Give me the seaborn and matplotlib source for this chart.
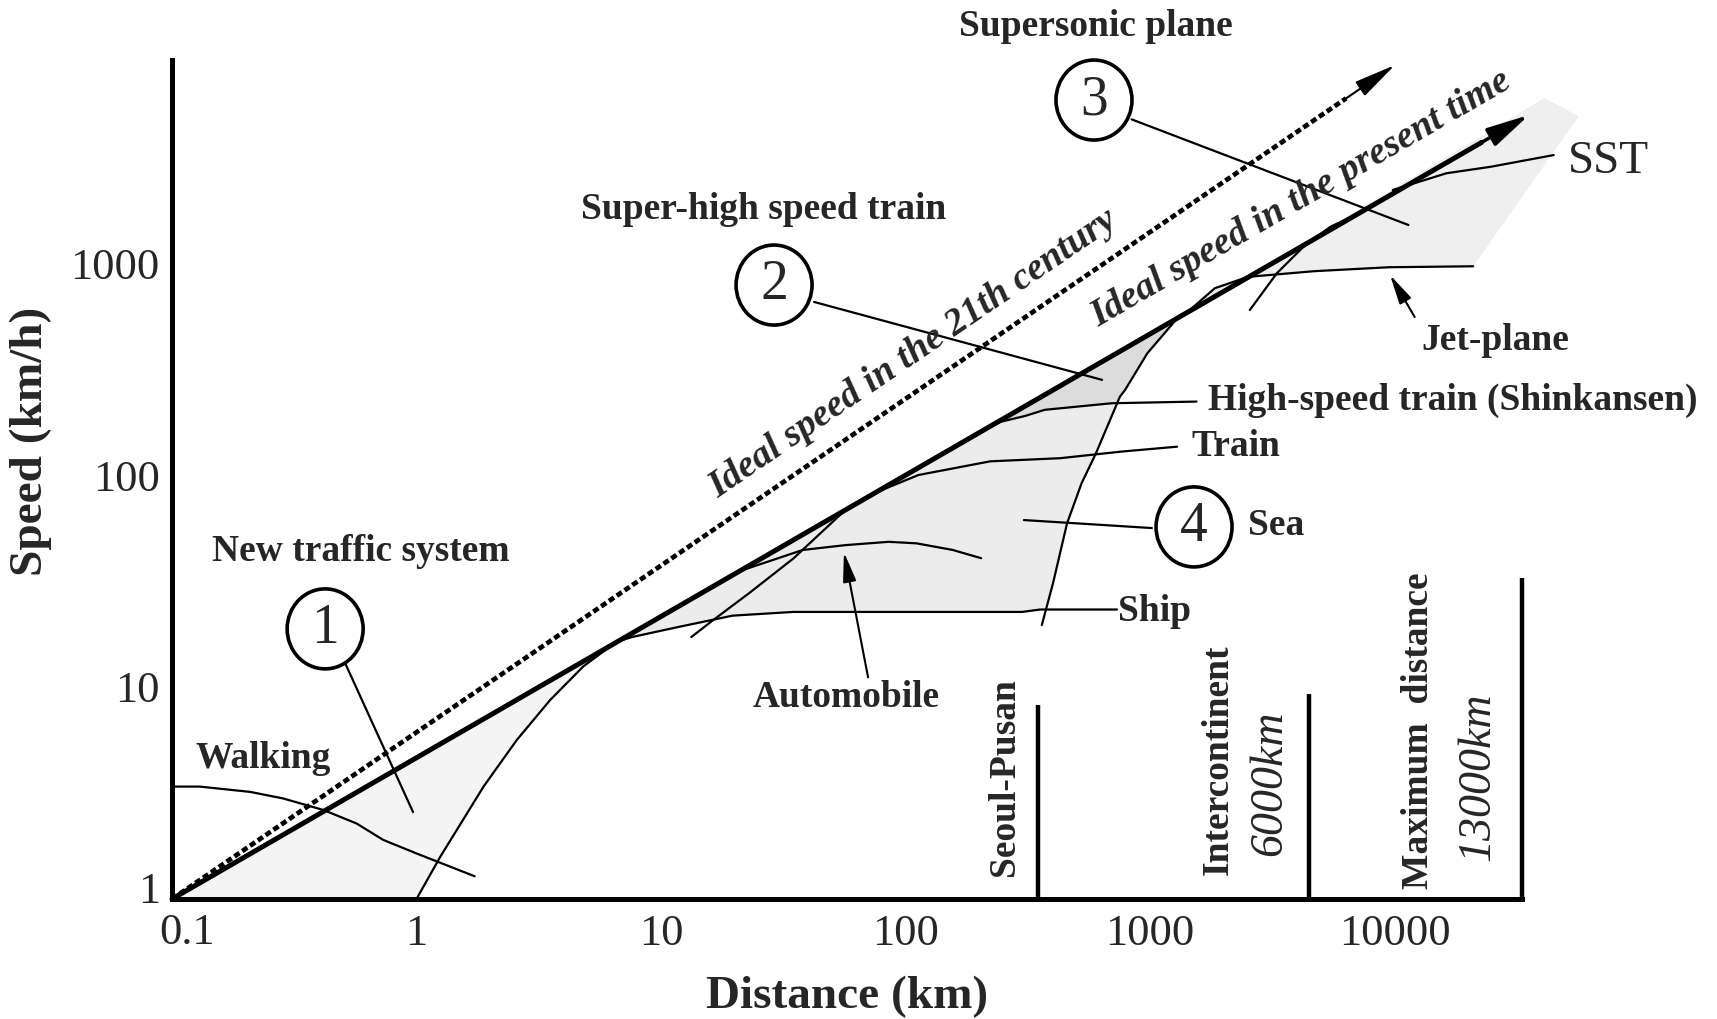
import numpy as np
import pandas as pd
import matplotlib
matplotlib.use("Agg")
import matplotlib.pyplot as plt
import seaborn as sns
from matplotlib.patches import Ellipse
from matplotlib.transforms import ScaledTranslation

# ---- curves (distance km, speed km/h) ----
walk_d = [0.103, 0.13, 0.209, 0.285, 0.416, 0.569, 0.731, 1.0, 1.73]
walk_v = [3.39, 3.39, 3.2, 2.98, 2.63, 2.27, 1.9, 1.64, 1.28]

newtraffic_d = [1.0, 1.25, 1.88, 2.57, 3.52, 4.81, 6.18, 6.6]
newtraffic_v = [1.0, 1.58, 3.39, 5.62, 8.68, 12.5, 15.5, 16.4]

ship_d = [6.45, 7.6, 11.8, 19.6, 34.7, 300, 355, 733]
ship_v = [16.2, 17.2, 19.2, 21.7, 22.6, 22.6, 23.2, 23.2]

sea_left_d = [13.3, 16, 23.2, 34.8, 55.7, 58]
sea_left_v = [17.2, 20.3, 28, 40.4, 67, 69]

auto_d = [22.2, 38, 56.9, 85.3, 111, 156, 204]
auto_v = [36, 44.3, 46.7, 48.4, 47.6, 44.3, 40.5]

train_d = [70.5, 113, 222, 428, 767, 1290]
train_v = [80, 100, 116, 120, 129, 136]

hst_d = [215, 244, 309, 371, 697, 1549]
hst_v = [166, 178, 190, 203, 218, 222]

sea_right_d = [361, 401, 458, 525, 600, 753, 791, 975, 1288]
sea_right_v = [19.6, 30.8, 59.2, 91.4, 126, 234, 252, 375, 546]

jet_d = [1400, 1840, 2510, 4700, 9500, 21000]
jet_v = [577, 760, 860, 915, 955, 965]

sst_d = [9840, 16300, 24800, 44800]
sst_v = [2210, 2650, 2845, 3230]

ss_lower_d = [2560, 3300, 4250, 5470, 6750]
ss_lower_v = [600, 894, 1195, 1483, 1660]

# ideal speed lines (start, arrow tip)
ideal_now_d = [0.1, 35500]
ideal_now_v = [1.0, 4990]
ideal_21_d = [0.1, 10050]
ideal_21_v = [1.0, 8590]

# shaded zones
zone1_d = [0.1, 6.6, 6.18, 4.81, 3.52, 2.57, 1.88, 1.25, 1.0]
zone1_v = [1.0, 16.4, 15.5, 12.5, 8.68, 5.62, 3.39, 1.58, 1.0]
zone4_d = [6.45, 7.6, 11.8, 19.6, 34.7, 300, 355, 375, 401, 458, 525, 600, 735, 697, 371, 309, 244, 215]
zone4_v = [16.2, 17.2, 19.2, 21.7, 22.6, 22.6, 23.2, 23.2, 30.8, 59.2, 91.4, 126, 219, 218, 203, 190, 178, 166]
zone2_d = [215, 244, 309, 371, 697, 735, 753, 791, 975, 1288]
zone2_v = [166, 178, 190, 203, 218, 219, 234, 252, 375, 546]
zone3_d = [1400, 41000, 56700, 21000, 9500, 4700, 2510, 1840]
zone3_v = [577, 6000, 4920, 965, 955, 915, 860, 760]

# reference distances
dist_d = [348, 4450, 33100]
dist_top = [8.2, 9.3, 32.5]

xtick_vals = [0.1, 1, 10, 100, 1000, 10000]
xtick_labels = ["0.1", "1", "10", "100", "1000", "10000"]
ytick_vals = [1, 10, 100, 1000]
ytick_labels = ["1", "10", "100", "1000"]

sns.set_theme(style="white")
plt.rcParams["font.family"] = ["Liberation Serif", "DejaVu Serif"]

W, H = 1717, 1019
fig = plt.figure(figsize=(W / 100, H / 100), dpi=100)
ax = fig.add_axes([0, 0, 1, 1])
ax.set_xscale("log")
ax.set_yscale("log")
ax.set_xlim(10 ** -1.70348, 10 ** 5.31901)
ax.set_ylim(10 ** -0.56604, 10 ** 4.24057)
ax.set_facecolor("white")
fig.patch.set_facecolor("white")

# shaded zones
for zd, zv, col in [(zone1_d, zone1_v, "#f4f4f4"), (zone4_d, zone4_v, "#ececec"),
                    (zone2_d, zone2_v, "#dcdcdc"), (zone3_d, zone3_v, "#efefef")]:
    ax.fill(zd, zv, color=col, lw=0, zorder=1)

def curve(d, v, lw=1.6, **kw):
    df = pd.DataFrame({"d": d, "v": v})
    sns.lineplot(data=df, x="d", y="v", sort=False, estimator=None, color="black",
                 lw=lw, ax=ax, zorder=3, **kw)

for d, v in [(walk_d, walk_v), (newtraffic_d, newtraffic_v), (ship_d, ship_v),
             (sea_left_d, sea_left_v), (auto_d, auto_v), (train_d, train_v),
             (hst_d, hst_v), (sea_right_d, sea_right_v), (jet_d, jet_v),
             (sst_d, sst_v), (ss_lower_d, ss_lower_v)]:
    curve(d, v)

def along(d, v, t):
    return d[0] * (d[1] / d[0]) ** t, v[0] * (v[1] / v[0]) ** t

# ideal speed lines with arrow heads
pd_, pv_ = along(ideal_now_d, ideal_now_v, 0.965)
curve([ideal_now_d[0], pd_], [ideal_now_v[0], pv_], lw=3.6)
ax.annotate("", xy=(ideal_now_d[1], ideal_now_v[1]), xytext=(pd_, pv_),
            arrowprops=dict(arrowstyle="-|>,head_length=1.3,head_width=0.3", lw=2.5,
                            color="black", shrinkA=0, shrinkB=0, mutation_scale=20), zorder=4)
qd_, qv_ = along(ideal_21_d, ideal_21_v, 0.96)
curve([ideal_21_d[0], qd_], [ideal_21_v[0], qv_], lw=3.4, linestyle=(0, (1.3, 0.7)))
ax.annotate("", xy=(ideal_21_d[1], ideal_21_v[1]), xytext=(qd_, qv_),
            arrowprops=dict(arrowstyle="-|>,head_length=1.3,head_width=0.26", lw=1.5,
                            color="black", shrinkA=0, shrinkB=0, mutation_scale=20), zorder=4)

# reference distance bars
ax.vlines(dist_d, 1, dist_top, color="black", lw=3.2, zorder=3)

# numbered circles with leader lines
circ_d = [0.423, 29, 590, 1514]
circ_v = [18.8, 787, 5870, 56.9]
circ_txt = ["1", "2", "3", "4"]
lead_d = [(0.51, 0.968), (42.3, 637), (841, 11400), (1018, 305)]
lead_v = [(13, 2.57), (655, 281), (4760, 1511), (56.2, 61.3)]
for (d0, d1), (v0, v1) in zip(lead_d, lead_v):
    curve([d0, d1], [v0, v1], lw=1.6)
for d, v, t in zip(circ_d, circ_v, circ_txt):
    tr = fig.dpi_scale_trans + ScaledTranslation(d, v, ax.transData)
    e = Ellipse((0, 0), 0.76, 0.80, transform=tr, fill=True, fc="white", ec="black", lw=2.6, zorder=7)
    ax.add_artist(e)
    ax.text(d, v, t, ha="center", va="center", fontsize=40, zorder=8)

# pointer arrows
ax.annotate("", xy=(9590, 878), xytext=(12100, 556),
            arrowprops=dict(arrowstyle="-|>,head_length=0.9,head_width=0.2", lw=1.5,
                            color="black", shrinkA=0, shrinkB=0, mutation_scale=20), zorder=4)
ax.annotate("", xy=(56, 43.3), xytext=(70.3, 11.1),
            arrowprops=dict(arrowstyle="-|>,head_length=0.9,head_width=0.2", lw=1.5,
                            color="black", shrinkA=0, shrinkB=0, mutation_scale=20), zorder=4)

# axes frame
for s in ["top", "right"]:
    ax.spines[s].set_visible(False)
ax.spines["left"].set_position(("data", 0.1))
ax.spines["bottom"].set_position(("data", 1))
ax.spines["left"].set_bounds(1, 9070)
ax.spines["bottom"].set_bounds(0.1, dist_d[-1])
for s in ["left", "bottom"]:
    ax.spines[s].set_linewidth(3.6)
    ax.spines[s].set_color("black")
    ax.spines[s].set_zorder(5)
# the corner labels (0.1 and 1) are set apart by hand below
ax.set_xticks(xtick_vals, [""] + xtick_labels[1:])
ax.set_yticks(ytick_vals, [""] + ytick_labels[1:])
ax.minorticks_off()
ax.tick_params(axis="x", direction="in", length=23, width=2.2, labelsize=32, pad=11, color="black")
ax.tick_params(axis="y", direction="in", length=42, width=2.2, labelsize=32, pad=9, color="black")
corner = ax.transData
ax.text(xtick_vals[0], ytick_vals[0], xtick_labels[0], fontsize=32, ha="center", va="center",
        transform=corner + ScaledTranslation(0.15, -0.34, fig.dpi_scale_trans))
ax.text(xtick_vals[0], ytick_vals[0], ytick_labels[0], fontsize=32, ha="right", va="center",
        transform=corner + ScaledTranslation(-0.12, 0.07, fig.dpi_scale_trans))
ax.grid(False)

fig.text(847 / W, 1 - 997 / H, "Distance (km)", ha="center", va="center",
         fontsize=34, fontweight="bold")
fig.text(31 / W, 1 - 441 / H, "Speed (km/h)", ha="center", va="center",
         fontsize=34, fontweight="bold", rotation=90)

bold = dict(fontsize=27, fontweight="bold", zorder=6)
ax.text(601, 13100, "Supersonic plane", ha="center", va="center", **bold)
ax.text(26.4, 1780, "Super-high speed train", ha="center", va="center", **bold)
ax.text(0.593, 43.8, "New traffic system", ha="center", va="center", **bold)
ax.text(0.236, 4.62, "Walking", ha="center", va="center", **bold)
ax.text(57.2, 8.97, "Automobile", ha="center", va="center", **bold)
ax.text(740, 22.6, "Ship", ha="left", va="center", **bold)
ax.text(2520, 57.5, "Sea", ha="left", va="center", **bold)
ax.text(1480, 136, "Train", ha="left", va="center", **bold)
ax.text(1720, 224, "High-speed train (Shinkansen)", ha="left", va="center", **bold)
ax.text(25800, 433, "Jet-plane", ha="center", va="center", **bold)
ax.text(51300, 3000, "SST", ha="left", va="center", fontsize=34, zorder=6)

ax.text(108, 372, "Ideal speed in the 21th century", ha="center", va="center",
        rotation=34.3, rotation_mode="anchor", fontsize=27.5, fontweight="bold",
        fontstyle="italic", zorder=6)
ax.text(4150, 2004, "Ideal speed in the present time", ha="center", va="center",
        rotation=30.1, rotation_mode="anchor", fontsize=27.5, fontweight="bold",
        fontstyle="italic", zorder=6)

vbold = dict(fontsize=27, fontweight="bold", rotation=90, ha="center", va="center", zorder=6)
ax.text(255, 3.76, "Seoul-Pusan", **vbold)
ax.text(1897, 4.53, "Intercontinent", **vbold)
ax.text(12590, 6.2, "Maximum  distance", **vbold)
vit = dict(fontsize=33, fontstyle="italic", rotation=90, ha="center", va="center", zorder=6)
ax.text(3100, 3.53, "6000km", **vit)
ax.text(21900, 3.76, "13000km", **vit)

ax.set_xlabel("")
ax.set_ylabel("")
leg = ax.get_legend()
if leg is not None:
    leg.remove()
fig.savefig("out.png", dpi=100)
